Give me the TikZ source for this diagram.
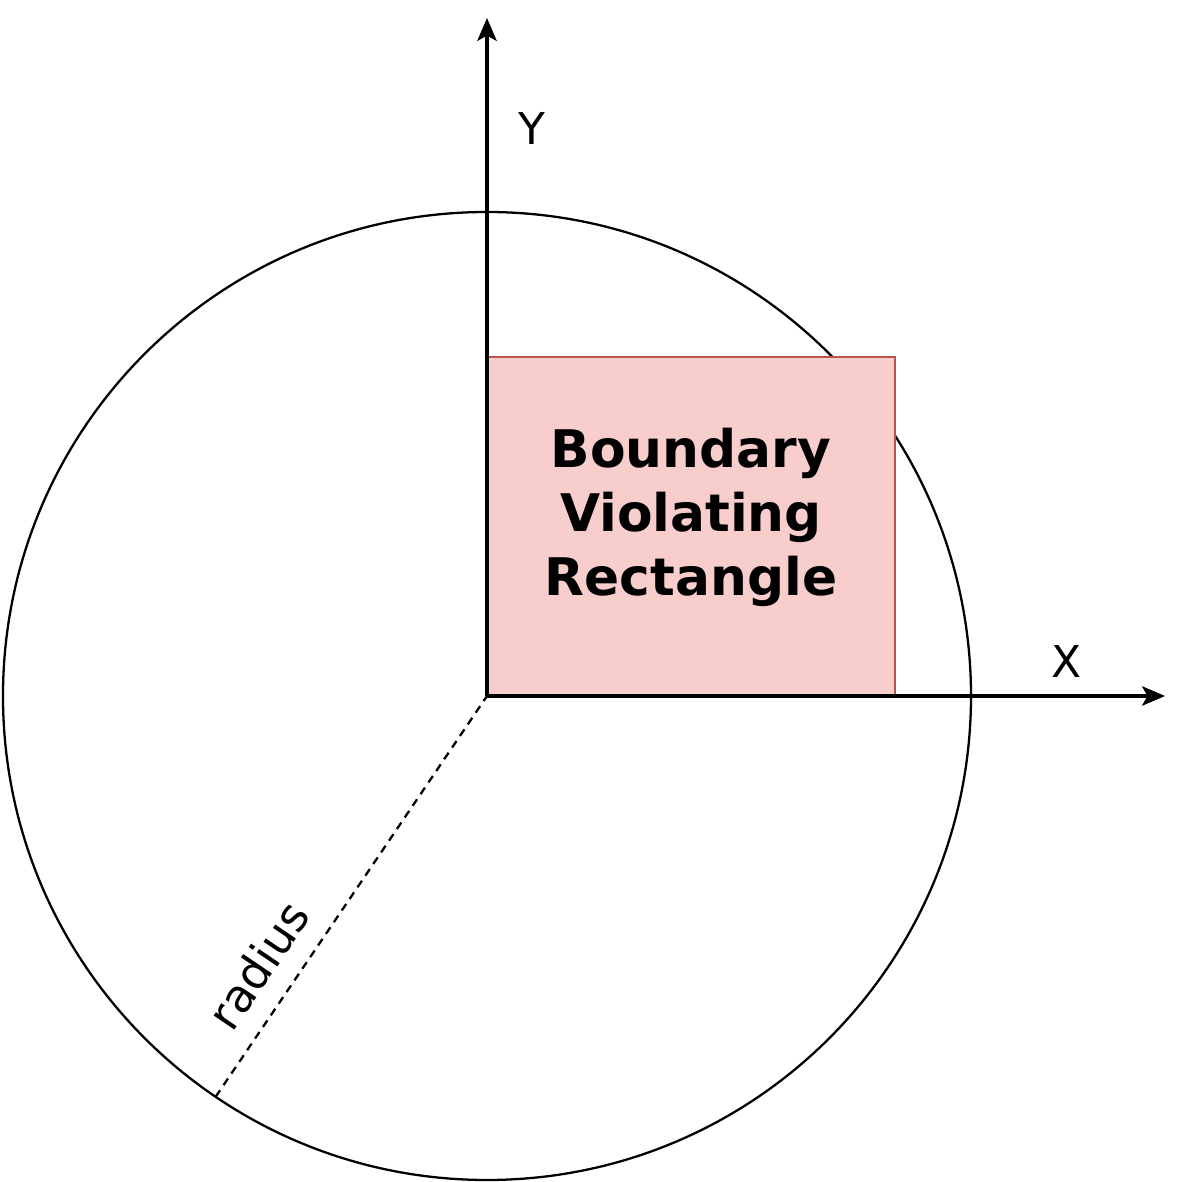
\documentclass[tikz,border=0pt]{standalone}
\usepackage{fontspec}
\setmainfont{DejaVu Sans}
\usetikzlibrary{arrows.meta,calc}
\definecolor{RectFill}{HTML}{F8CECC}
\definecolor{RectLine}{HTML}{B85450}

\begin{document}
\begin{tikzpicture}[
    x=0.02cm,
    y=0.02cm,
    >={Stealth[length=13pt,width=11pt,inset=3pt]},
    axis/.style={
        ->,
        line width=2.1pt
    },
    lbl/.style={
        font=\fontsize{25}{30}\selectfont,
        inner sep=0pt
    },
    box/.style={
        draw=RectLine,
        fill=RectFill,
        line width=1.3pt,
        outer sep=0pt,
        anchor=south west,
        minimum width=8.16cm,
        minimum height=6.78cm
    },
    boxtext/.style={
        align=center,
        font=\fontsize{29.5}{36.4}\selectfont\bfseries
    }
]

\useasboundingbox (-487,-486) rectangle (699,696);

\coordinate (O) at (0,0);
\coordinate (ytip) at (0,678);
\coordinate (xtip) at (678,0);
\coordinate (rend) at (235.9:484);

% circle of given radius round the origin
\draw[line width=1.3pt] (O) circle[radius=484];

\node[box] (viol) at (O) {};
\node[boxtext] (violtxt) at ($(viol.center)+(0,9)$) {Boundary\\Violating\\Rectangle};

\draw[dash pattern=on 4.5pt off 3.5pt, line width=1.3pt] (rend) -- (O);
\node[lbl, font=\fontsize{26}{30}\selectfont, rotate=55.9] (radlbl) at (-229,-269) {radius};

% axes
\draw[axis] (O) -- (ytip);
\draw[axis] (O) -- (xtip);
\node[lbl] (ylbl) at (45,567) {Y};
\node[lbl] (xlbl) at (580,35) {X};

\end{tikzpicture}
\end{document}
